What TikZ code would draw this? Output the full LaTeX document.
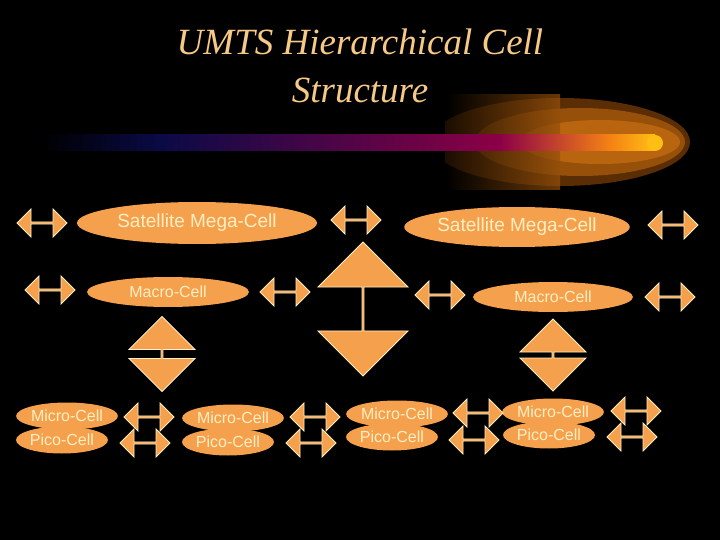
\documentclass[tikz,border=0pt]{standalone}
\usepackage{fontspec}
\setmainfont{Liberation Serif}
\newfontfamily\lsans{Liberation Sans}
\usetikzlibrary{shapes.arrows,shapes.geometric}
\definecolor{orng}{HTML}{F5A04C}
\definecolor{cream}{HTML}{FFEFC2}
\definecolor{ttl}{HTML}{F6C987}
\definecolor{bnavy}{RGB}{20,10,90}
\definecolor{bdark}{RGB}{10,10,70}
\definecolor{bpurp}{RGB}{140,0,70}
\definecolor{borng}{RGB}{245,130,20}
\definecolor{byel}{RGB}{255,190,20}
\definecolor{glowa}{RGB}{90,45,5}
\definecolor{glowb}{RGB}{150,80,10}
\definecolor{glowc}{RGB}{185,100,15}
\tikzset{
 cell/.style={ellipse,fill=orng,text=cream,inner sep=0pt,font=\lsans},
 harr/.style={double arrow,fill=orng,draw=cream,line width=0.8pt,minimum height=50pt,minimum width=28pt,double arrow head extend=5pt,inner sep=0pt},
 varr/.style={double arrow,shape border rotate=90,fill=orng,draw=cream,line width=0.8pt,double arrow head extend=14pt,inner sep=0pt}
}
\begin{document}
\begin{tikzpicture}[x=1pt,y=-1pt]
\fill[black] (0,0) rectangle (720,540);
\useasboundingbox (0,0) rectangle (720,540);
% glow
\begin{scope}
\clip (445,95) rectangle (720,190);
\fill[glowa] (560,142) ellipse (130 and 44);
\fill[glowb] (580,142) ellipse (105 and 34);
\fill[glowc] (600,142) ellipse (80 and 22);
\end{scope}
\shade[left color=black,right color=black,opacity=0] (445,100) rectangle (446,101);
\begin{scope}
\clip (445,95) rectangle (560,190);
\shade[left color=black,right color=glowb,opacity=0.7] (445,95) rectangle (560,190);
\end{scope}
% bar
\shade[left color=black,right color=bdark] (40,135) rectangle (160,151);
\shade[left color=bdark,right color=bpurp] (160,135) rectangle (500,151);
\shade[left color=bpurp,right color=borng] (500,135) rectangle (610,151);
\shade[left color=borng,right color=byel] (610,135) rectangle (655,151);
\fill[byel] (655,143) circle (8);
% title
\node[text=ttl,font=\itshape\fontsize{37}{48}\selectfont,align=center] (title) at (360,66) {UMTS Hierarchical Cell\\Structure};
% cells
\node[cell,minimum width=240pt,minimum height=42pt,font=\lsans\fontsize{19}{20}\selectfont] (s1) at (197,223) {Satellite Mega-Cell};
\node[cell,minimum width=210pt,minimum height=40pt,font=\lsans\fontsize{19}{20}\selectfont] (s2) at (517,227) {Satellite Mega-Cell};
\node[cell,minimum width=162pt,minimum height=30pt,font=\lsans\fontsize{16}{18}\selectfont] (m1) at (168,292) {Macro-Cell};
\node[cell,minimum width=160pt,minimum height=30pt,font=\lsans\fontsize{16}{18}\selectfont] (m2) at (553,297) {Macro-Cell};
\foreach \n/\x/\y/\xp/\yp in {a/67/416/62/440, b/233/418/228/442, c/397/414/392/437, d/553/412/549/435}{
 \node[cell,minimum width=92pt,minimum height=27pt,font=\lsans\fontsize{16}{18}\selectfont] (mi\n) at (\x,\y) {Micro-Cell};
 \node[cell,minimum width=92pt,minimum height=27pt,font=\lsans\fontsize{16}{18}\selectfont] (pi\n) at (\xp,\yp) {Pico-Cell};
}
% horizontal arrows
\foreach \i/\x/\y in {1/42/223,2/356/220,3/673/225,4/50/290,5/285/292,6/440/295,7/670/297,
 8/149/417,9/145/443,10/315/417,11/311/443,12/478/413,13/474/440,14/636/411,15/632/437}
 \node[harr] (h\i) at (\x,\y) {};
% vertical arrows
\node[varr,minimum height=75pt,minimum width=66pt] (v1) at (162,354) {};
\node[varr,minimum height=134pt,minimum width=90pt,double arrow head extend=18pt] (v2) at (363,309) {};
\node[varr,minimum height=72pt,minimum width=66pt] (v3) at (553,355) {};
\end{tikzpicture}
\end{document}
